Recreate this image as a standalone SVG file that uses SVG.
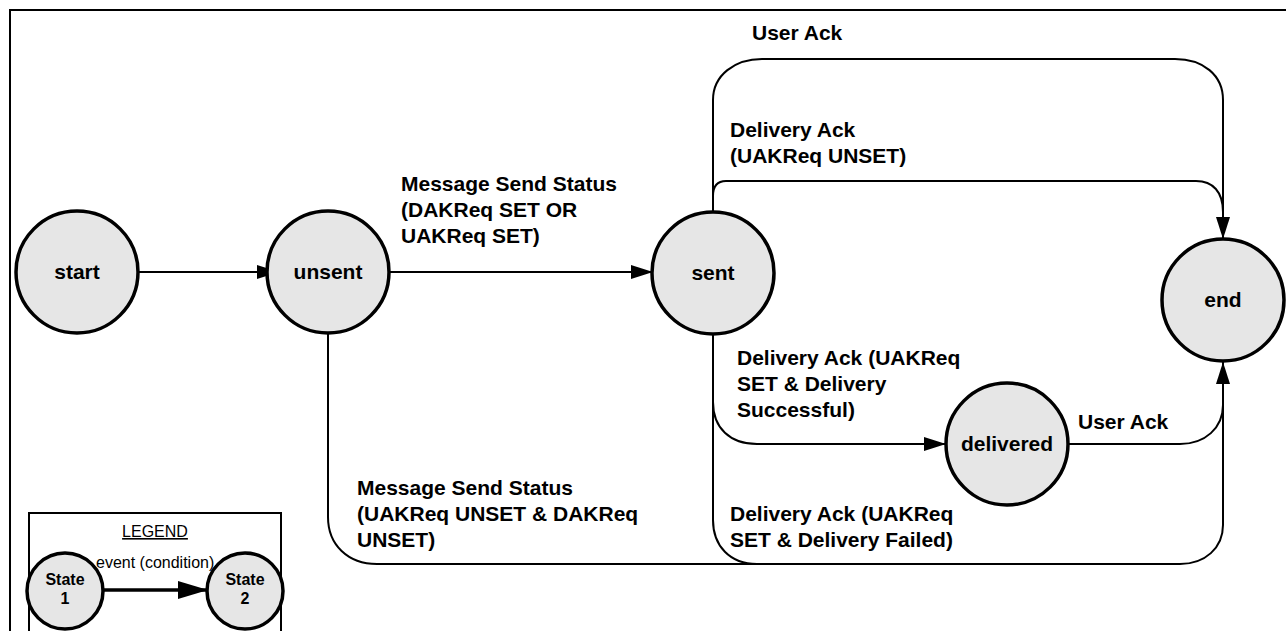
<svg xmlns="http://www.w3.org/2000/svg" width="1286" height="631" viewBox="0 0 1286 631">
  <style>
    .frame { fill: none; stroke: #000; stroke-width: 2; }
    .state { fill: #e6e6e6; stroke: #000; stroke-width: 3.5; }
    .edge { fill: none; stroke: #000; stroke-width: 2; }
    .name { font-family: "Liberation Sans", Arial, sans-serif; font-weight: bold; font-size: 21px; text-anchor: middle; fill: #000; }
    .lbl { font-family: "Liberation Sans", Arial, sans-serif; font-weight: bold; font-size: 21px; fill: #000; }
    .lgd { font-family: "Liberation Sans", Arial, sans-serif; font-size: 16px; fill: #000; }
    .lgdname { font-family: "Liberation Sans", Arial, sans-serif; font-weight: bold; font-size: 16px; text-anchor: middle; fill: #000; }
  </style>
  <defs>
    <marker id="arrow" markerUnits="userSpaceOnUse" markerWidth="22" markerHeight="14" refX="22" refY="7" orient="auto">
      <path d="M0,0 L22,7 L0,14 z" fill="#000"/>
    </marker>
    <marker id="arrowBig" markerUnits="userSpaceOnUse" markerWidth="30" markerHeight="18" refX="30" refY="9" orient="auto">
      <path d="M0,0 L30,9 L0,18 z" fill="#000"/>
    </marker>
  </defs>

  <rect width="1286" height="631" fill="#fff"/>
  <!-- outer frame -->
  <rect class="frame" x="10" y="10" width="1300" height="700"/>

  <!-- transitions -->
  <g id="connectors">
    <path class="edge" d="M138,272 H279" marker-end="url(#arrow)"/>
    <path class="edge" d="M389,272 H653" marker-end="url(#arrow)"/>
    <!-- sent -> end : User Ack (outer top loop) -->
    <path class="edge" d="M713,212 V100 C713,75 735,59 762,59 H1175 C1203,59 1223,75 1223,100 V239" marker-end="url(#arrow)"/>
    <!-- sent -> end : Delivery Ack (UAKReq UNSET) -->
    <path class="edge" d="M713,196 C713,186 717,181 726,181 H1196 C1213,181 1223,192 1223,212"/>
    <!-- sent -> delivered -->
    <path class="edge" d="M713,334 V402 C713,428 730,444 757,444 H946" marker-end="url(#arrow)"/>
    <!-- sent -> end : delivery failed -->
    <path class="edge" d="M713,400 V520 C713,546 730,564 757,564"/>
    <!-- unsent -> end : neither ack requested -->
    <path class="edge" d="M328,334 V517 C328,545 348,564 377,564 H1180 C1205,564 1223,548 1223,525 V405"/>
    <!-- delivered -> end : User Ack -->
    <path class="edge" d="M1068,444 H1180 C1205,444 1223,428 1223,405 V362" marker-end="url(#arrow)"/>
  </g>

  <!-- transition labels -->
  <g id="labels">
    <text class="lbl" x="752" y="40">User Ack</text>
    <text class="lbl" x="730" y="137">Delivery Ack</text>
    <text class="lbl" x="730" y="163">(UAKReq UNSET)</text>
    <text class="lbl" x="401" y="191">Message Send Status</text>
    <text class="lbl" x="401" y="217">(DAKReq SET OR</text>
    <text class="lbl" x="401" y="243">UAKReq SET)</text>
    <text class="lbl" x="737" y="365">Delivery Ack (UAKReq</text>
    <text class="lbl" x="737" y="391">SET &amp; Delivery</text>
    <text class="lbl" x="737" y="417">Successful)</text>
    <text class="lbl" x="1078" y="429">User Ack</text>
    <text class="lbl" x="357" y="495">Message Send Status</text>
    <text class="lbl" x="357" y="521">(UAKReq UNSET &amp; DAKReq</text>
    <text class="lbl" x="357" y="547">UNSET)</text>
    <text class="lbl" x="730" y="521">Delivery Ack (UAKReq</text>
    <text class="lbl" x="730" y="547">SET &amp; Delivery Failed)</text>
  </g>

  <!-- states -->
  <g id="start">
    <circle class="state" cx="77" cy="272" r="61"/>
    <text class="name" x="77" y="279">start</text>
  </g>
  <g id="unsent">
    <circle class="state" cx="328" cy="272" r="61"/>
    <text class="name" x="328" y="279">unsent</text>
  </g>
  <g id="sent">
    <circle class="state" cx="713" cy="273" r="61"/>
    <text class="name" x="713" y="280">sent</text>
  </g>
  <g id="delivered">
    <circle class="state" cx="1007" cy="444" r="61"/>
    <text class="name" x="1007" y="451">delivered</text>
  </g>
  <g id="end">
    <circle class="state" cx="1223" cy="300" r="61"/>
    <text class="name" x="1223" y="307">end</text>
  </g>

  <!-- legend -->
  <g id="legend">
    <rect class="frame" x="29" y="513" width="252" height="140"/>
    <text class="lgd" x="155" y="537" text-anchor="middle" text-decoration="underline">LEGEND</text>
    <text class="lgd" x="96" y="568">event (condition)</text>
    <path d="M102,590 H208" fill="none" stroke="#000" stroke-width="3.5" marker-end="url(#arrowBig)"/>
    <g id="legend-state1">
      <circle class="state" cx="65" cy="591" r="38"/>
      <text class="lgdname" x="65" y="585">State</text>
      <text class="lgdname" x="65" y="604">1</text>
    </g>
    <g id="legend-state2">
      <circle class="state" cx="245" cy="591" r="38"/>
      <text class="lgdname" x="245" y="585">State</text>
      <text class="lgdname" x="245" y="604">2</text>
    </g>
  </g>
</svg>
